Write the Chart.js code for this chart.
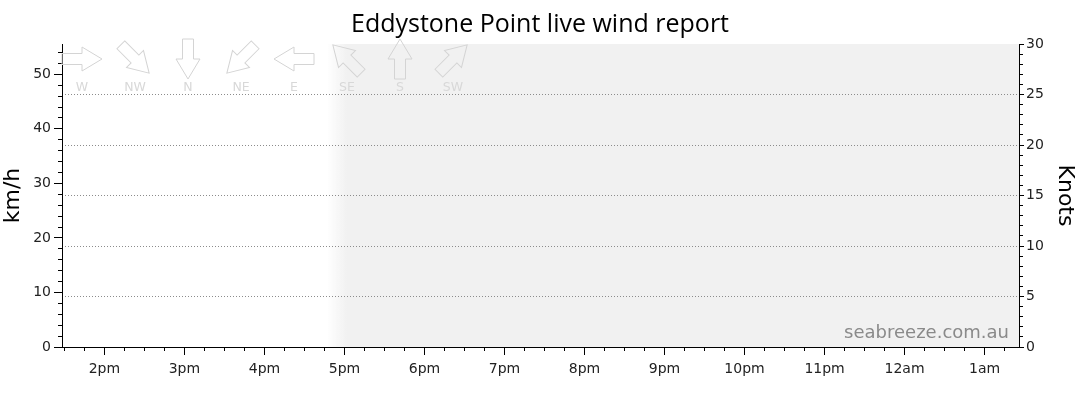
<!DOCTYPE html>
<html>
<head>
<meta charset="utf-8">
<script src="https://cdn.jsdelivr.net/npm/chart.js@4"></script>
<style>
  html, body { margin: 0; padding: 0; background: #ffffff; }
  #wrap { width: 1080px; height: 414px; }
</style>
</head>
<body>
<div id="wrap"><canvas id="c" width="1080" height="414"></canvas></div>
<script>
// ---------------- data ----------------
const titleText = 'Eddystone Point live wind report';
const windTimes = [];            // hours since midnight – no observations in this window
const windKmh = [];              // km/h – no observations in this window
const xMinHour = 13.47;
const xMaxHour = 25.43;
const hourTicks = [14, 15, 16, 17, 18, 19, 20, 21, 22, 23, 24, 25];
const hourLabels = ['2pm', '3pm', '4pm', '5pm', '6pm', '7pm', '8pm', '9pm', '10pm', '11pm', '12am', '1am'];
const kmhMax = 55.56;
const knotsMax = 30;
const kmhLabelTicks = [0, 10, 20, 30, 40, 50];
const knotLabelTicks = [0, 5, 10, 15, 20, 25, 30];
const knotGridLines = [5, 10, 15, 20, 25];
const directionNames = ['W', 'NW', 'N', 'NE', 'E', 'SE', 'S', 'SW'];
const directionBearings = [270, 315, 0, 45, 90, 135, 180, 225];
const forecastFadeStartHour = 16.78;
const forecastFadeEndHour = 17.03;
const watermarkText = 'seabreeze.com.au';

// ---------------- tick layout ----------------
const TICK_FONT = 'DejaVu Sans';
const quarterTicks = [];
for (let q = Math.ceil(xMinHour * 4); q / 4 <= xMaxHour; q++) quarterTicks.push(q / 4);
const kmhMinorTicks = [];
for (let v = 0; v <= kmhMax; v += 2) kmhMinorTicks.push(v);
const knotMinorTicks = [];
for (let v = 0; v <= knotsMax; v += 1) knotMinorTicks.push(v);

const near = (a, b) => Math.abs(a - b) < 1e-6;
const isHour = v => hourTicks.some(h => near(h, v));

// ---------------- plugins ----------------
const backdropPlugin = {
  id: 'backdrop',
  beforeDraw(chart) {
    const { ctx, chartArea: a, scales: { x } } = chart;
    const x0 = x.getPixelForValue(forecastFadeStartHour);
    const x1 = x.getPixelForValue(forecastFadeEndHour);
    const g = ctx.createLinearGradient(x0, 0, x1, 0);
    g.addColorStop(0, 'rgba(241,241,241,0)');
    g.addColorStop(1, 'rgba(241,241,241,1)');
    ctx.save();
    ctx.fillStyle = g;
    ctx.fillRect(x0, a.top, a.right - x0, a.bottom - a.top);
    ctx.restore();
  }
};

const overlayPlugin = {
  id: 'overlay',
  afterDraw(chart) {
    const { ctx, chartArea: a } = chart;
    ctx.save();
    // direction legend arrows
    directionNames.forEach((name, i) => {
      const cx = a.left + 20 + 53 * i;
      const cy = a.top + 15;
      const toBearing = (directionBearings[i] + 180) % 360;
      const ang = (toBearing - 90) * Math.PI / 180;
      ctx.save();
      ctx.translate(cx, cy);
      ctx.rotate(ang);
      ctx.beginPath();
      ctx.moveTo(-20, -5.5);
      ctx.lineTo(0, -5.5);
      ctx.lineTo(0, -12);
      ctx.lineTo(20, 0);
      ctx.lineTo(0, 12);
      ctx.lineTo(0, 5.5);
      ctx.lineTo(-20, 5.5);
      ctx.closePath();
      ctx.strokeStyle = '#d4d4d4';
      ctx.lineWidth = 1;
      ctx.stroke();
      ctx.restore();
      ctx.fillStyle = '#d8d8d8';
      ctx.font = '12.5px "' + TICK_FONT + '"';
      ctx.textAlign = 'center';
      ctx.textBaseline = 'middle';
      ctx.fillText(name, cx, a.top + 43.5);
    });
    // watermark
    ctx.fillStyle = '#8a8a8a';
    ctx.font = '18px "' + TICK_FONT + '"';
    ctx.textAlign = 'right';
    ctx.textBaseline = 'alphabetic';
    ctx.fillText(watermarkText, a.right - 10, a.bottom - 9);
    ctx.restore();
  }
};

// ---------------- chart ----------------
new Chart(document.getElementById('c'), {
  type: 'line',
  data: {
    datasets: [{
      label: 'Wind (km/h)',
      data: windTimes.map((t, i) => ({ x: t, y: windKmh[i] })),
      yAxisID: 'y',
      xAxisID: 'x',
      borderColor: '#3366cc',
      pointRadius: 0
    }]
  },
  options: {
    responsive: false,
    animation: false,
    layout: { padding: 0 },
    plugins: {
      legend: { display: false },
      tooltip: { enabled: false },
      title: {
        display: true,
        text: titleText,
        color: '#000',
        font: { family: 'Open Sans', size: 25, weight: 'normal', lineHeight: 1.2 },
        padding: { top: 10, bottom: 4 }
      }
    },
    scales: {
      x: {
        type: 'linear', position: 'bottom', bounds: 'data',
        min: xMinHour, max: xMaxHour,
        afterBuildTicks: s => { s.ticks = quarterTicks.map(v => ({ value: v })); },
        afterFit: s => { s.height = 67; },
        ticks: {
          autoSkip: false, maxRotation: 0, minRotation: 0, padding: 6,
          color: '#222', font: { family: TICK_FONT, size: 14 },
          callback: v => { const i = hourTicks.findIndex(h => near(h, v)); return i >= 0 ? hourLabels[i] : ''; }
        },
        grid: {
          drawOnChartArea: false, tickLength: 8, tickColor: '#000', tickWidth: 1,
          tickBorderDash: c => (c.tick && isHour(c.tick.value)) ? [] : [3, 100]
        },
        border: { display: true, color: '#000', width: 1 }
      },
      y: {
        type: 'linear', position: 'left', bounds: 'data',
        min: 0, max: kmhMax,
        afterBuildTicks: s => { s.ticks = kmhMinorTicks.map(v => ({ value: v })); },
        afterFit: s => { s.width = 62; },
        title: { display: true, text: 'km/h', color: '#000', font: { family: TICK_FONT, size: 22 }, padding: { top: 0, bottom: 0 } },
        ticks: {
          autoSkip: false, padding: 3, color: '#222', font: { family: TICK_FONT, size: 14 },
          callback: v => kmhLabelTicks.some(t => near(t, v)) ? String(v) : ''
        },
        grid: {
          drawOnChartArea: false, tickLength: 8, tickColor: '#000', tickWidth: 1,
          tickBorderDash: c => (c.tick && kmhLabelTicks.some(t => near(t, c.tick.value))) ? [] : [0, 4, 4, 100]
        },
        border: { display: true, color: '#000', width: 1 }
      },
      y1: {
        type: 'linear', position: 'right', bounds: 'data',
        min: 0, max: knotsMax,
        afterBuildTicks: s => { s.ticks = knotMinorTicks.map(v => ({ value: v })); },
        afterFit: s => { s.width = 61; },
        title: { display: true, text: 'Knots', color: '#000', font: { family: TICK_FONT, size: 22 }, padding: { top: 2, bottom: 0 } },
        ticks: {
          autoSkip: false, padding: 2, color: '#222', font: { family: TICK_FONT, size: 14 },
          callback: v => knotLabelTicks.some(t => near(t, v)) ? String(v) : ''
        },
        grid: {
          drawOnChartArea: true,
          color: c => (c.tick && knotGridLines.some(t => near(t, c.tick.value))) ? '#8c8c8c' : 'rgba(0,0,0,0)',
          lineWidth: 1,
          tickLength: 5, tickColor: '#000', tickWidth: 1,
          tickBorderDash: c => (c.tick && knotLabelTicks.some(t => near(t, c.tick.value))) ? [] : [3, 100]
        },
        border: { display: true, color: '#000', width: 1, dash: [1, 2] }
      }
    }
  },
  plugins: [backdropPlugin, overlayPlugin]
});
</script>
</body>
</html>
